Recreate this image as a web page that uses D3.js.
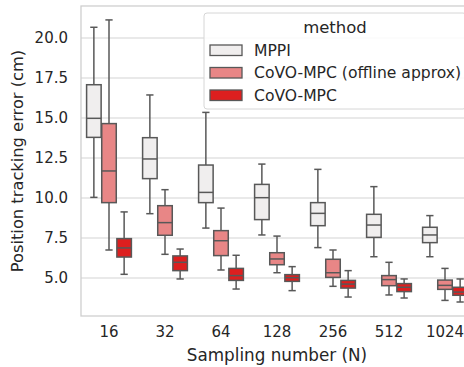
<!DOCTYPE html>
<html>
<head>
<meta charset="utf-8">
<script src="https://cdn.jsdelivr.net/npm/d3@7"></script>
<style>
  body { margin: 0; background: #fff; }
  svg { display: block; font-family: "DejaVu Sans", sans-serif; }
</style>
</head>
<body>
<div id="chart"></div>
<script>
// sampling numbers on the x axis
const samples = ["16", "32", "64", "128", "256", "512", "1024"];
const methods = ["MPPI", "CoVO-MPC (offline approx)", "CoVO-MPC"];
const colors = ["#f0eeee", "#e88686", "#dd1f1f"];
const yTicks = [5.0, 7.5, 10.0, 12.5, 15.0, 17.5, 20.0];

// box stats per method, one entry per sampling number: [low, q1, median, q3, high]
const mppi = [
  [10.04, 13.79, 14.98, 17.08, 20.67],
  [9.02, 11.21, 12.44, 13.77, 16.44],
  [8.12, 9.71, 10.35, 12.06, 15.35],
  [7.69, 8.65, 10.02, 10.85, 12.12],
  [6.90, 8.27, 9.04, 9.71, 11.79],
  [6.33, 7.54, 8.31, 8.98, 10.71],
  [6.33, 7.21, 7.69, 8.17, 8.90]
];
const offline = [
  [6.75, 9.71, 11.69, 14.65, 21.13],
  [6.48, 7.67, 8.46, 9.52, 10.52],
  [5.50, 6.40, 7.33, 7.96, 9.37],
  [5.33, 5.83, 6.19, 6.58, 7.62],
  [4.48, 5.04, 5.33, 6.17, 6.75],
  [3.94, 4.52, 4.90, 5.15, 5.98],
  [3.60, 4.29, 4.54, 4.87, 5.60]
];
const covo = [
  [5.23, 6.31, 6.88, 7.46, 9.13],
  [4.94, 5.46, 5.98, 6.38, 6.81],
  [4.31, 4.85, 5.15, 5.60, 6.42],
  [4.21, 4.79, 5.02, 5.21, 5.71],
  [3.81, 4.37, 4.62, 4.85, 5.46],
  [3.75, 4.15, 4.42, 4.65, 4.94],
  [3.50, 3.92, 4.12, 4.42, 4.94]
];
const series = [mppi, offline, covo];

const width = 464, height = 367;
const margin = { top: 6, left: 81, bottom: 51 };
const plotRight = 473; // axes run past the right edge of the picture

const svg = d3.select("#chart").append("svg")
  .attr("width", width)
  .attr("height", height);

const x = d3.scaleBand().domain(samples).range([margin.left, plotRight]);
const xInner = d3.scaleBand().domain(methods)
  .range([0, x.bandwidth() * 0.8]).paddingInner(0.04);
const y = d3.scaleLinear().domain([2.625, 22.0]).range([height - margin.bottom, margin.top]);

// grid
svg.append("g")
  .selectAll("line")
  .data(yTicks)
  .join("line")
  .attr("x1", margin.left).attr("x2", plotRight)
  .attr("y1", d => y(d)).attr("y2", d => y(d))
  .attr("stroke", "#d4d4d4").attr("stroke-width", 1.1);

// frame
svg.append("rect")
  .attr("x", margin.left).attr("y", margin.top)
  .attr("width", plotRight - margin.left)
  .attr("height", height - margin.bottom - margin.top)
  .attr("fill", "none").attr("stroke", "#cfcfcf").attr("stroke-width", 1.3);

// y axis
const yAxis = svg.append("g")
  .attr("transform", `translate(${margin.left},0)`)
  .call(d3.axisLeft(y).tickValues(yTicks).tickFormat(d3.format(".1f")).tickSize(0).tickPadding(13));
yAxis.select(".domain").remove();
yAxis.selectAll("text").attr("font-size", 15).attr("fill", "#262626")
  .attr("font-family", "DejaVu Sans");

// x axis
const xAxis = svg.append("g")
  .attr("transform", `translate(0,${height - margin.bottom})`)
  .call(d3.axisBottom(x).tickSize(0).tickPadding(10));
xAxis.select(".domain").remove();
xAxis.selectAll("text").attr("font-size", 15).attr("fill", "#262626")
  .attr("font-family", "DejaVu Sans");

// axis titles
svg.append("text")
  .attr("transform", `translate(23,${(margin.top + height - margin.bottom) / 2}) rotate(-90)`)
  .attr("text-anchor", "middle")
  .attr("font-size", 16.3).attr("fill", "#262626")
  .text("Position tracking error (cm)");

svg.append("text")
  .attr("x", (margin.left + plotRight) / 2)
  .attr("y", 361)
  .attr("text-anchor", "middle")
  .attr("font-size", 16.8).attr("fill", "#262626")
  .text("Sampling number (N)");

// boxes
const edge = "#585858";
const boxes = [];
series.forEach((s, mi) => {
  s.forEach((st, ci) => {
    boxes.push({ method: methods[mi], color: colors[mi], cat: samples[ci], st });
  });
});

const bw = xInner.bandwidth();
const g = svg.append("g")
  .selectAll("g")
  .data(boxes)
  .join("g")
  .attr("transform", d => `translate(${x(d.cat) + x.bandwidth() * 0.1 + xInner(d.method)},0)`);

// whiskers
g.append("line")
  .attr("x1", bw / 2).attr("x2", bw / 2)
  .attr("y1", d => y(d.st[0])).attr("y2", d => y(d.st[1]))
  .attr("stroke", edge).attr("stroke-width", 1.5);
g.append("line")
  .attr("x1", bw / 2).attr("x2", bw / 2)
  .attr("y1", d => y(d.st[3])).attr("y2", d => y(d.st[4]))
  .attr("stroke", edge).attr("stroke-width", 1.5);
// caps
[0, 4].forEach(k => {
  g.append("line")
    .attr("x1", bw * 0.25).attr("x2", bw * 0.75)
    .attr("y1", d => y(d.st[k])).attr("y2", d => y(d.st[k]))
    .attr("stroke", edge).attr("stroke-width", 1.5);
});
// box body
g.append("rect")
  .attr("x", 0).attr("width", bw)
  .attr("y", d => y(d.st[3]))
  .attr("height", d => y(d.st[1]) - y(d.st[3]))
  .attr("fill", d => d.color)
  .attr("stroke", edge).attr("stroke-width", 1.5);
// median
g.append("line")
  .attr("x1", 0).attr("x2", bw)
  .attr("y1", d => y(d.st[2])).attr("y2", d => y(d.st[2]))
  .attr("stroke", edge).attr("stroke-width", 1.5);

// legend
const legend = svg.append("g").attr("transform", "translate(204,13)");
legend.append("rect")
  .attr("width", 262).attr("height", 96)
  .attr("rx", 3)
  .attr("fill", "#fff").attr("fill-opacity", 0.85)
  .attr("stroke", "#d6d6d6").attr("stroke-width", 1);
legend.append("text")
  .attr("x", 131).attr("y", 20)
  .attr("text-anchor", "middle")
  .attr("font-size", 16.5).attr("fill", "#262626")
  .text("method");
const items = legend.selectAll("g.item")
  .data(methods)
  .join("g")
  .attr("class", "item")
  .attr("transform", (d, i) => `translate(6,${32 + i * 22.5})`);
items.append("rect")
  .attr("width", 32).attr("height", 10.5)
  .attr("fill", (d, i) => colors[i])
  .attr("stroke", edge).attr("stroke-width", 1.3);
items.append("text")
  .attr("x", 44).attr("y", 5.5)
  .attr("dy", "0.35em")
  .attr("font-size", 15.6).attr("fill", "#262626")
  .text(d => d);
</script>
</body>
</html>
